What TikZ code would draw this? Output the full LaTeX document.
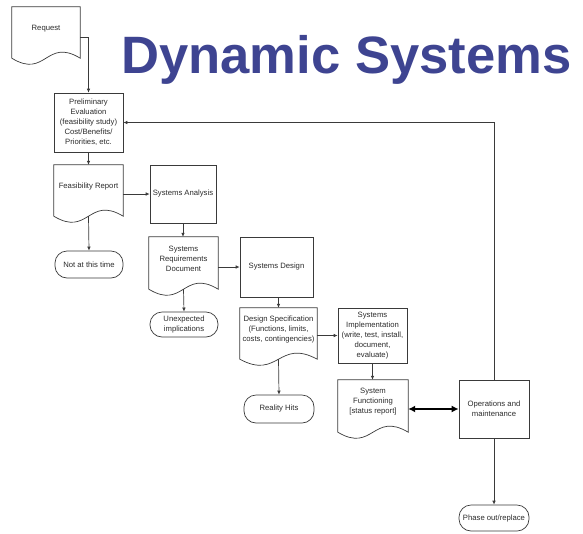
\documentclass[tikz,border=0pt]{standalone}
\usepackage{fontspec}
\setmainfont{Liberation Sans}
\usetikzlibrary{calc,arrows.meta}
\definecolor{ln}{HTML}{3A3A3A}
\definecolor{tt}{HTML}{2B2B2B}
\definecolor{ttl}{HTML}{3E4491}
\begin{document}
\begin{tikzpicture}[x=1pt,y=-1pt,
  every node/.style={font=\fontsize{7.7}{10}\selectfont, text=tt, align=center, inner sep=0pt},
  box/.style={draw=ln, line width=0.7pt, rectangle},
  docshape/.style={rectangle},
  term/.style={draw=ln, line width=0.7pt, rectangle, rounded corners=12pt},
  conn/.style={draw=ln, line width=0.7pt, -{Latex[length=4pt,width=3.6pt]}},
  dbl/.style={draw=black, line width=1.8pt, {Latex[length=7pt,width=7pt]}-{Latex[length=7pt,width=7pt]}},
  docline/.style={draw=ln, line width=0.7pt}]
\useasboundingbox (0,0) rectangle (583,533);

% title
\node[anchor=base west, font=\fontsize{52.6}{60}\selectfont\bfseries, text=ttl] (title) at (121,73) {Dynamic Systems};

% document shapes (text area; wave drawn below)
\node[docshape, minimum width=68pt, minimum height=43pt] (req) at (46,28.5) {Request};
\node[docshape, minimum width=69pt, minimum height=43pt] (feas) at (88.5,186.5) {Feasibility Report};
\node[docshape, minimum width=69pt, minimum height=44pt] (srd) at (183.5,259) {Systems\\Requirements\\Document};
\node[docshape, minimum width=77pt, minimum height=43pt] (dspec) at (278.5,329.5) {Design Specification\\(Functions, limits,\\costs, contingencies)};
\node[docshape, minimum width=70pt, minimum height=44pt] (sfunc) at (373,402) {System\\Functioning\\{[status report]}};

\foreach \n in {req,feas,srd,dspec,sfunc}{
  \coordinate (\n-l) at ([yshift=-8pt]\n.south west);
  \coordinate (\n-r) at ([yshift=-8pt]\n.south east);
  \draw[docline] (\n.north west) -- (\n.north east) -- (\n-r)
    .. controls ($(\n-l)!0.5!(\n-r)+(0,21pt)$) and ($(\n-l)!0.5!(\n-r)+(0,-21pt)$) .. (\n-l) -- cycle;
}

% process boxes
\node[box, minimum width=69pt, minimum height=59pt] (prelim) at (88.5,122.5) {Preliminary\\Evaluation\\(feasibility study)\\Cost/Benefits/\\Priorities, etc.};
\node[box, minimum width=66pt, minimum height=58pt] (SA) at (183,194) {Systems Analysis};
\node[box, minimum width=73pt, minimum height=60pt] (SD) at (276.5,267) {Systems Design};
\node[box, minimum width=69pt, minimum height=55pt] (SI) at (372.5,335.5) {Systems\\Implementation\\(write, test, install,\\document,\\evaluate)};
\node[box, minimum width=70pt, minimum height=58pt] (ops) at (494,409) {Operations and\\maintenance};

% terminators
\node[term, minimum width=68pt, minimum height=27pt] (nat) at (89,264.5) {Not at this time};
\node[term, minimum width=68pt, minimum height=25pt] (unexp) at (184,324.5) {Unexpected\\implications};
\node[term, minimum width=70pt, minimum height=28pt] (rh) at (279,409) {Reality Hits};
\node[term, minimum width=70pt, minimum height=26pt] (phase) at (494,518) {Phase out/replace};

% connectors
\draw[conn] ([yshift=-8.5pt]req.east) -| (prelim.north);
\draw[conn] (prelim.south) -- (feas.north);
\draw[conn] (SA.west -| feas.east) -- (SA.west);
\draw[conn] ([yshift=-8pt]feas.south) -- (nat.north);
\draw[conn] (SA.south) -- (SA.south |- srd.north);
\draw[conn] (SD.west -| srd.east) -- (SD.west);
\draw[conn] ([yshift=-8pt]srd.south) -- (unexp.north);
\draw[conn] (SD.south -| dspec.north) -- (dspec.north);
\draw[conn] (SI.west -| dspec.east) -- (SI.west);
\draw[conn] ([yshift=-8pt]dspec.south) -- (rh.north);
\draw[conn] (SI.south) -- (SI.south |- sfunc.north);
\draw[dbl] (ops.west -| sfunc.east) -- (ops.west);
\draw[conn] (ops.south) -- (phase.north);
\draw[conn] (ops.north) |- (prelim.east);
\end{tikzpicture}
\end{document}
